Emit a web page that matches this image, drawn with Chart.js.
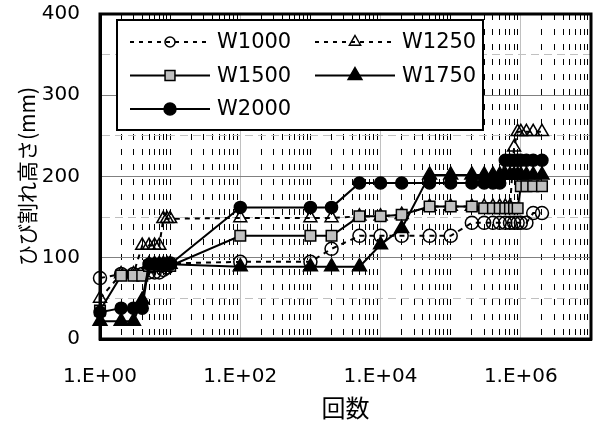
<!DOCTYPE html>
<html>
<head>
<meta charset="utf-8">
<script src="https://cdn.jsdelivr.net/npm/chart.js@4.4.0/dist/chart.umd.min.js"></script>
<style>
    body { margin: 0; background: #fff; }
    #wrap { width: 595px; height: 428px; }
</style>
</head>
<body>
<div id="wrap"><canvas id="crackChart"></canvas></div>
<script>
// 回数 (load cycles)
const cycles = [1, 2, 3, 4, 5, 6, 7, 8, 9, 10, 100, 1000, 2000, 5000, 10000, 20000, 50000,
    100000, 200000, 300000, 400000, 500000, 600000, 700000, 800000, 900000, 1000000,
    1200000, 1500000, 2000000];

// ひび割れ高さ (mm)
const w1000 = [75, 80, 80, 80, 82, 82, 82, 85, 88, 93, 95, 95, 111, 127, 127, 127, 127,
    127, 143, 143, 143, 143, 143, 143, 143, 143, 143, 143, 155, 155];
const w1250 = [50, 80, 80, 115, 115, 115, 115, 148, 148, 148, 149, 149, 149, 151, 151, 153, 163,
    163, 163, 163, 163, 163, 163, 163, 236, 255, 255, 255, 255, 255];
const w1500 = [35, 78, 78, 78, 90, 90, 90, 90, 90, 90, 127, 127, 127, 151, 151, 153, 163,
    163, 163, 161, 161, 161, 161, 161, 161, 161, 188, 188, 188, 188];
const w1750 = [22, 22, 22, 48, 92, 92, 92, 92, 92, 92, 89, 89, 89, 89, 116, 136, 202,
    202, 202, 202, 202, 202, 202, 202, 202, 202, 202, 202, 202, 202];
const w2000 = [33, 38, 38, 38, 92, 92, 92, 92, 92, 92, 162, 162, 162, 192, 192, 192, 192,
    192, 192, 192, 192, 192, 220, 220, 220, 220, 220, 220, 220, 220];

const seriesNames = ['W1000', 'W1250', 'W1500', 'W1750', 'W2000'];
const xLabelTicks = [1, 100, 10000, 1000000];
const yTicksLabelled = [0, 100, 200, 300, 400];

function toPoints(values) {
    return cycles.map((n, i) => ({ x: n, y: values[i] }));
}

function isMajorX(v) {
    return xLabelTicks.indexOf(v) >= 0;
}

function drawMarker(ctx, style, x, y, r, fill) {
    ctx.beginPath();
    if (style === 'circle') {
        ctx.arc(x, y, r, 0, Math.PI * 2);
    } else if (style === 'rect') {
        const s = r * Math.SQRT1_2;
        ctx.rect(x - s, y - s, 2 * s, 2 * s);
    } else {
        ctx.moveTo(x, y - r);
        ctx.lineTo(x + r * 0.866, y + r * 0.5);
        ctx.lineTo(x - r * 0.866, y + r * 0.5);
        ctx.closePath();
    }
    ctx.fillStyle = fill;
    ctx.fill();
    ctx.lineWidth = 1.5;
    ctx.strokeStyle = '#000';
    ctx.stroke();
}

// 枠線
const plotFrame = {
    id: 'plotFrame',
    beforeDatasetsDraw(chart) {
        const a = chart.chartArea;
        const ctx = chart.ctx;
        ctx.save();
        ctx.lineWidth = 3;
        ctx.strokeStyle = '#000';
        ctx.strokeRect(a.left, a.top, a.right - a.left, a.bottom - a.top);
        ctx.restore();
    }
};

// 凡例 (グラフ内, 2列)
const boxLegend = {
    id: 'boxLegend',
    afterDatasetsDraw(chart) {
        const a = chart.chartArea;
        const ctx = chart.ctx;
        const x0 = a.left + 17, y0 = a.top + 6;
        ctx.save();
        ctx.fillStyle = '#fff';
        ctx.fillRect(x0, y0, 366, 110);
        ctx.lineWidth = 2;
        ctx.strokeStyle = '#000';
        ctx.strokeRect(x0, y0, 366, 110);
        chart.data.datasets.forEach((ds, i) => {
            const col = i % 2, row = Math.floor(i / 2);
            const lx = x0 + 13 + col * 185;
            const ly = y0 + 22 + row * 33.5;
            ctx.beginPath();
            ctx.setLineDash(ds.borderDash.length ? [4, 5] : []);
            ctx.lineWidth = 2;
            ctx.strokeStyle = '#000';
            ctx.moveTo(lx, ly);
            ctx.lineTo(lx + 80, ly);
            ctx.stroke();
            ctx.setLineDash([]);
            drawMarker(ctx, ds.pointStyle, lx + 40, ly, ds.legendRadius, ds.pointBackgroundColor);
            ctx.fillStyle = '#000';
            ctx.font = '21px "DejaVu Sans"';
            ctx.textBaseline = 'middle';
            ctx.textAlign = 'left';
            ctx.fillText(ds.label, lx + 87, ly + 1);
        });
        ctx.restore();
    }
};

const styles = [
    { pointStyle: 'circle', fill: 'rgba(0,0,0,0)', dash: [5, 5], r: 6.5, lr: 5 },
    { pointStyle: 'triangle', fill: 'rgba(0,0,0,0)', dash: [5, 5], r: 7.5, lr: 6.5 },
    { pointStyle: 'rect', fill: '#c0c0c0', dash: [], r: 7.5, lr: 7 },
    { pointStyle: 'triangle', fill: '#000', dash: [], r: 8, lr: 8 },
    { pointStyle: 'circle', fill: '#000', dash: [], r: 6, lr: 6 }
];
const seriesValues = [w1000, w1250, w1500, w1750, w2000];

const datasets = seriesNames.map((name, i) => ({
    label: name,
    data: toPoints(seriesValues[i]),
    borderColor: '#000',
    borderWidth: 2,
    borderDash: styles[i].dash,
    pointStyle: styles[i].pointStyle,
    pointRadius: styles[i].r,
    pointBackgroundColor: styles[i].fill,
    pointBorderColor: '#000',
    pointBorderWidth: 1.5,
    legendRadius: styles[i].lr,
    tension: 0,
    clip: false,
    order: 5 - i
}));

const ctx = document.getElementById('crackChart').getContext('2d');
new Chart(ctx, {
    type: 'line',
    data: { datasets: datasets },
    options: {
        responsive: true,
        maintainAspectRatio: false,
        animation: false,
        layout: { padding: { top: 14, right: 4, left: 0, bottom: 0 }, autoPadding: false },
        plugins: {
            legend: { display: false },
            tooltip: { enabled: false }
        },
        scales: {
            x: {
                type: 'logarithmic',
                min: 1,
                max: 10000000,
                afterBuildTicks: function (axis) {
                    const ticks = [];
                    for (let e = 0; e < 7; e++) {
                        for (let m = 1; m < 10; m++) {
                            ticks.push({ value: m * Math.pow(10, e) });
                        }
                    }
                    ticks.push({ value: 10000000 });
                    axis.ticks = ticks;
                },
                afterFit: function (scale) {
                    scale.height = 89;
                    scale.paddingLeft = 0;
                    scale.paddingRight = 0;
                },
                ticks: {
                    autoSkip: false,
                    maxRotation: 0,
                    minRotation: 0,
                    padding: 26,
                    color: '#000',
                    font: { family: '"DejaVu Sans"', size: 20 },
                    callback: function (value) {
                        if (!isMajorX(value)) return '';
                        const e = Math.round(Math.log10(value));
                        return '1.E+' + String(e).padStart(2, '0');
                    }
                },
                grid: {
                    drawTicks: false,
                    lineWidth: 1,
                    color: function (c) {
                        const v = c.tick ? c.tick.value : 0;
                        return isMajorX(v) ? '#c0c0c0' : '#000';
                    }
                },
                border: {
                    color: '#000',
                    width: 3,
                    dash: function (c) {
                        const v = c.tick ? c.tick.value : 1;
                        return isMajorX(v) ? [] : [6, 9];
                    }
                },
                title: {
                    display: true,
                    text: '回数',
                    color: '#000',
                    font: { family: '"Noto Sans CJK JP"', size: 24 },
                    padding: { top: 0, bottom: 6 }
                }
            },
            y: {
                type: 'linear',
                min: 0,
                max: 400,
                afterFit: function (scale) {
                    scale.width = 100;
                    scale.paddingTop = 0;
                    scale.paddingBottom = 0;
                },
                ticks: {
                    stepSize: 50,
                    autoSkip: false,
                    padding: 20,
                    color: '#000',
                    font: { family: '"DejaVu Sans"', size: 20 },
                    callback: function (value) {
                        return yTicksLabelled.indexOf(value) >= 0 ? String(value) : '';
                    }
                },
                grid: {
                    drawTicks: false,
                    lineWidth: 1,
                    color: function (c) {
                        const v = c.tick ? c.tick.value : 0;
                        return v % 100 === 0 ? '#808080' : '#c0c0c0';
                    }
                },
                border: {
                    color: '#000',
                    width: 3,
                    dash: function (c) {
                        const v = c.tick ? c.tick.value : 0;
                        return v % 100 === 0 ? [] : [8, 5];
                    }
                },
                title: {
                    display: true,
                    text: 'ひび割れ高さ(mm)',
                    color: '#000',
                    font: { family: '"Noto Sans CJK JP"', size: 21 },
                    padding: { top: 14, bottom: 0 }
                }
            }
        }
    },
    plugins: [plotFrame, boxLegend]
});
</script>
</body>
</html>
